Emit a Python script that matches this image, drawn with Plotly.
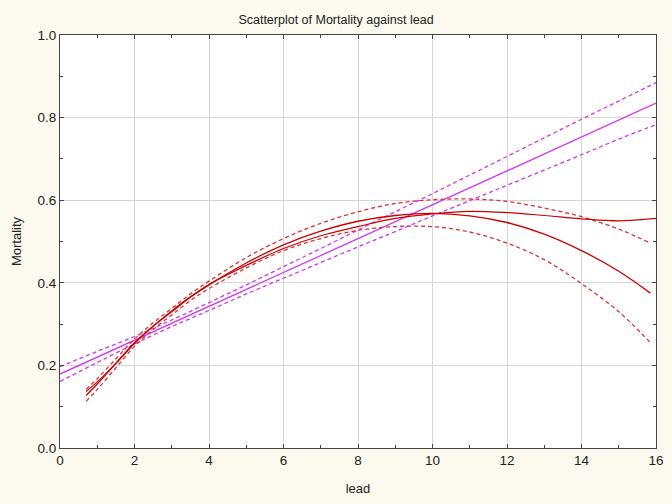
import plotly.graph_objects as go

# Linear fit (magenta)
lin_x = [0, 16]
lin_y = [0.179, 0.835]
band_x = [0, 1, 2, 3, 4, 5, 6, 7, 8, 9, 10, 11, 12, 13, 14, 15, 16]
lin_upper = [0.197, 0.234, 0.270, 0.310, 0.352, 0.395, 0.439, 0.483, 0.528, 0.572,
             0.616, 0.661, 0.706, 0.751, 0.796, 0.840, 0.885]
lin_lower = [0.161, 0.207, 0.252, 0.294, 0.333, 0.373, 0.411, 0.449, 0.487, 0.524,
             0.562, 0.599, 0.636, 0.673, 0.710, 0.748, 0.783]

# Polynomial fit (red) with confidence band
poly_x = [0.7, 1, 1.5, 2, 2.5, 3, 3.5, 4, 5, 6, 7, 8, 9, 10, 11, 12, 13, 14, 15, 15.85]
poly_y = [0.127, 0.155, 0.205, 0.255, 0.295, 0.330, 0.365, 0.395, 0.448, 0.492,
          0.525, 0.549, 0.563, 0.568, 0.562, 0.546, 0.518, 0.478, 0.428, 0.375]
poly_upper = [0.142, 0.168, 0.216, 0.264, 0.303, 0.338, 0.373, 0.404, 0.461, 0.507,
              0.544, 0.572, 0.592, 0.601, 0.603, 0.597, 0.581, 0.560, 0.530, 0.496]
poly_lower = [0.113, 0.142, 0.194, 0.246, 0.287, 0.322, 0.357, 0.386, 0.436, 0.478,
              0.507, 0.527, 0.536, 0.536, 0.523, 0.496, 0.456, 0.398, 0.330, 0.255]

# Smoother (red)
smooth_x = [0.7, 1, 1.5, 2, 2.5, 3, 3.5, 4, 5, 6, 7, 8, 9, 10, 11, 12, 13, 14, 15, 16]
smooth_y = [0.137, 0.160, 0.205, 0.253, 0.295, 0.332, 0.366, 0.396, 0.442, 0.483,
            0.514, 0.536, 0.556, 0.567, 0.573, 0.570, 0.563, 0.555, 0.550, 0.556]

MAG = "#D035F2"
RED = "#CC0000"
RED_D = "#DD3030"

fig = go.Figure()
fig.add_trace(go.Scatter(x=band_x, y=lin_upper, mode="lines", line=dict(color=MAG, width=1.3, dash="4px,3px", shape="spline")))
fig.add_trace(go.Scatter(x=band_x, y=lin_lower, mode="lines", line=dict(color=MAG, width=1.3, dash="4px,3px", shape="spline")))
fig.add_trace(go.Scatter(x=lin_x, y=lin_y, mode="lines", line=dict(color=MAG, width=1.3)))
fig.add_trace(go.Scatter(x=poly_x, y=poly_upper, mode="lines", line=dict(color=RED_D, width=1.3, dash="4px,3px", shape="spline")))
fig.add_trace(go.Scatter(x=poly_x, y=poly_lower, mode="lines", line=dict(color=RED_D, width=1.3, dash="4px,3px", shape="spline")))
fig.add_trace(go.Scatter(x=poly_x, y=poly_y, mode="lines", line=dict(color=RED, width=1.3, shape="spline")))
fig.add_trace(go.Scatter(x=smooth_x, y=smooth_y, mode="lines", line=dict(color=RED, width=1.2, shape="spline")))

axis_common = dict(
    showline=True, linecolor="#444444", linewidth=1, mirror="allticks",
    ticks="inside", ticklen=4, tickcolor="#444444",
    showgrid=True, gridcolor="#D6D6D6", gridwidth=1, zeroline=False,
    automargin=False,
    tickfont=dict(family="Liberation Sans, Arial", size=13.5, color="#222222"),
)

fig.update_layout(
    width=672, height=504,
    paper_bgcolor="#FCFAEE", plot_bgcolor="#FFFFFF",
    margin=dict(l=60, r=16, t=35, b=56),
    showlegend=False,
    font=dict(family="Liberation Sans, Arial", size=13, color="#222222"),
    title=dict(text="Scatterplot of Mortality against lead", x=0.5, xanchor="center",
               y=1 - 20 / 504, yanchor="middle", yref="container",
               font=dict(size=12.5, color="#222222")),
)
fig.update_xaxes(range=[0, 16], tickvals=[0, 2, 4, 6, 8, 10, 12, 14, 16],
                 minor=dict(tickvals=[1, 3, 5, 7, 9, 11, 13, 15], ticks="inside", ticklen=3, tickcolor="#444444", showgrid=False),
                 title=dict(text="lead", standoff=16, font=dict(size=13)), **axis_common)
fig.update_yaxes(range=[0, 1], tickvals=[0, 0.2, 0.4, 0.6, 0.8, 1.0], tickformat=".1f",
                 minor=dict(tickvals=[0.1, 0.3, 0.5, 0.7, 0.9], ticks="inside", ticklen=3, tickcolor="#444444", showgrid=False),
                 title=dict(text="Mortality", standoff=12, font=dict(size=13)), **axis_common)

fig.write_html("out.html", config={"displayModeBar": False},
               post_script="document.body.style.margin='0';document.body.style.overflow='hidden';")
